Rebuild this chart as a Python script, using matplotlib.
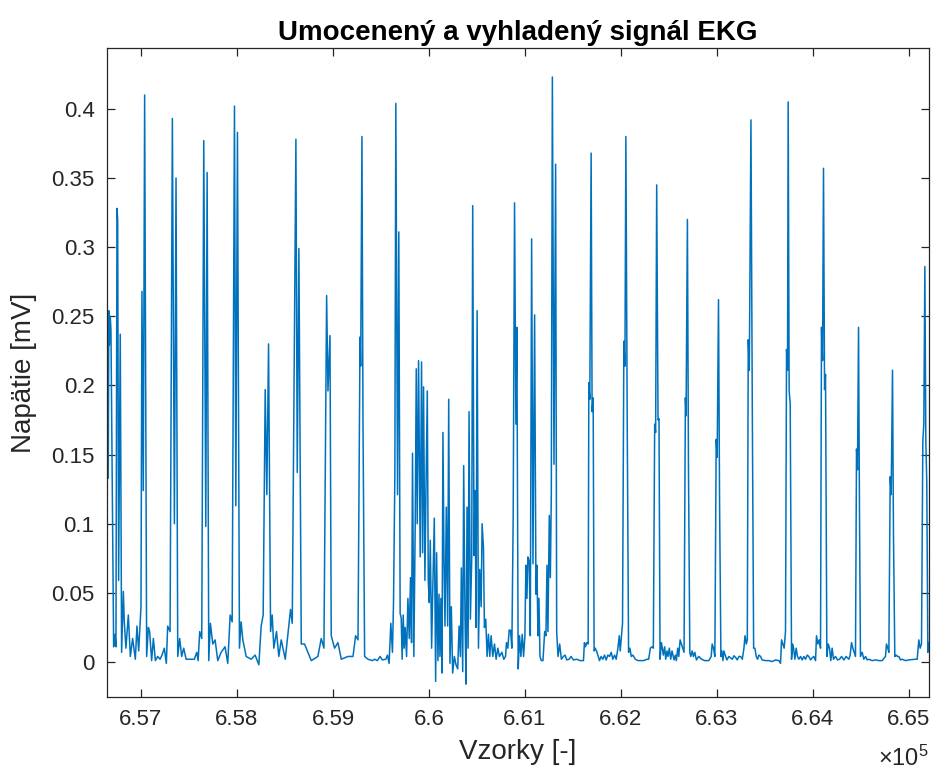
import numpy as np
import matplotlib
matplotlib.use("Agg")
import matplotlib.pyplot as plt
from matplotlib.ticker import MultipleLocator, FuncFormatter

plt.rcParams['font.family'] = ['Liberation Sans', 'DejaVu Sans']
plt.rcParams['mathtext.fontset'] = 'custom'
plt.rcParams['mathtext.rm'] = 'Liberation Sans'

# Vrcholy signalu odcitane z obrazku (vzorka, napatie v mV)
vzorky = [
    656659, 656665, 656670, 656680, 656687, 656715, 656729, 656739, 656750, 656757,
    656767, 656784, 656798, 656816, 656826, 656843, 656868, 656889, 656913, 656941,
    656958, 656976, 657000, 657010, 657024, 657038, 657059, 657077, 657090, 657111,
    657129, 657150, 657174, 657198, 657219, 657243, 657264, 657278, 657303, 657327,
    657348, 657365, 657383, 657403, 657424, 657445, 657470, 657504, 657556, 657581,
    657595, 657612, 657633, 657654, 657675, 657689, 657706, 657723, 657748, 657772,
    657800, 657835, 657876, 657904, 657929, 657950, 657974, 657988, 658005, 658026,
    658043, 658061, 658096, 658148, 658189, 658228, 658252, 658273, 658294, 658311,
    658329, 658350, 658367, 658384, 658412, 658436, 658461, 658503, 658558, 658576,
    658614, 658628, 658645, 658670, 658704, 658774, 658843, 658878, 658906, 658934,
    658948, 658969, 658982, 659017, 659052, 659087, 659156, 659209, 659236, 659261,
    659282, 659289, 659302, 659313, 659330, 659365,
    659411, 659436, 659463, 659491, 659515, 659551, 659568, 659585, 659603, 659620,
    659631, 659645, 659655, 659673, 659686, 659700, 659711, 659721, 659732, 659742,
    659753, 659767, 659781, 659795, 659808, 659819, 659829, 659843, 659857, 659868,
    659878, 659892, 659909, 659923, 659934, 659944, 659958, 659969, 659983, 659993,
    660003, 660014, 660028, 660038, 660056, 660070, 660080, 660094, 660105, 660115,
    660125, 660136, 660146, 660157, 660167, 660181, 660195, 660206, 660219, 660233,
    660247, 660265, 660282, 660300, 660314, 660328, 660338, 660352, 660362, 660376,
    660387, 660397, 660408, 660418, 660432, 660446, 660456, 660470, 660481, 660491,
    660502, 660516, 660530, 660544, 660554, 660568, 660578, 660592, 660606, 660620,
    660634, 660648, 660665, 660683, 660700, 660718, 660735, 660760, 660780, 660798,
    660808, 660822, 660836, 660850, 660864, 660878, 660892, 660906, 660916, 660930,
    660944, 660958, 660972, 660986, 661000, 661010, 661021, 661031, 661045, 661056,
    661070, 661084, 661101, 661115, 661125, 661136, 661146, 661157, 661171, 661188,
    661206, 661219, 661230, 661240, 661254, 661265, 661275, 661286, 661303, 661320,
    661331, 661345, 661362, 661380,
    661401, 661418, 661436, 661460, 661481, 661505, 661540, 661575, 661610, 661620,
    661631, 661645, 661659, 661666, 661676, 661690, 661700, 661711, 661721, 661732,
    661746, 661760, 661777, 661794, 661812, 661829, 661847, 661864, 661882, 661899,
    661916, 661934, 661951, 661969, 661983, 661993, 662003, 662017, 662031, 662042,
    662052, 662066, 662080, 662094, 662108, 662125, 662150, 662178, 662202, 662237,
    662272, 662289, 662307, 662324, 662338, 662352, 662362, 662373, 662387, 662397,
    662408, 662422, 662432, 662442, 662456, 662467, 662481, 662491, 662505, 662519,
    662533, 662554, 662568, 662578, 662592, 662603, 662617, 662631, 662645, 662658,
    662672, 662679, 662693, 662704, 662718, 662728, 662742, 662756, 662770, 662787,
    662812, 662840, 662874, 662916, 662941, 662951, 662965, 662979, 662993, 663003,
    663017, 663028, 663042, 663052, 663063, 663073, 663091, 663104, 663125, 663143,
    663160, 663178, 663195, 663212, 663230, 663247, 663265, 663282, 663293, 663307,
    663317, 663327, 663338, 663355, 663369, 663383,
    663396, 663410, 663424, 663438, 663455, 663472, 663507, 663542, 663576, 663611,
    663646, 663663, 663674, 663688, 663701, 663715, 663726, 663736, 663743, 663753,
    663764, 663778, 663788, 663799, 663813, 663826, 663840, 663854, 663872, 663889,
    663906, 663924, 663941, 663958, 663976, 663993, 664010, 664028, 664038, 664052,
    664066, 664080, 664090, 664101, 664111, 664122, 664132, 664146, 664160, 664174,
    664187, 664201, 664215, 664236, 664257, 664278, 664299, 664323, 664347, 664375,
    664389, 664403, 664417, 664431, 664444, 664455, 664465, 664476, 664486, 664496,
    664514, 664531, 664549, 664566, 664583, 664618, 664653, 664687, 664722, 664757,
    664767, 664781, 664792, 664806, 664816, 664830, 664840, 664854, 664868, 664882,
    664896, 664913, 664931, 664965, 665000, 665069, 665087, 665104, 665118, 665132,
    665146, 665156, 665167, 665177, 665187, 665198, 665208, 665219,
]

napatie = [
    0.133, 0.254, 0.229, 0.250, 0.240, 0.011, 0.020, 0.011, 0.328, 0.320,
    0.059, 0.237, 0.007, 0.051, 0.029, 0.010, 0.034, 0.004, 0.017, 0.002,
    0.026, 0.008, 0.040, 0.268, 0.124, 0.410, 0.004, 0.025, 0.022, 0.001,
    0.017, 0.001, 0.004, 0.002, 0.005, 0.010, -0.001, 0.026, 0.022, 0.393,
    0.100, 0.350, 0.004, 0.017, 0.004, 0.010, 0.002, 0.002, 0.002, 0.007,
    0.001, 0.022, 0.017, 0.377, 0.098, 0.354, 0.001, 0.028, 0.013, 0.016,
    0.001, 0.007, 0.011, -0.001, 0.034, 0.029, 0.402, 0.113, 0.383, 0.010,
    0.029, 0.016, 0.004, 0.002, 0.005, -0.002, 0.026, 0.034, 0.197, 0.121,
    0.230, 0.022, 0.034, 0.010, 0.022, 0.004, 0.016, 0.002, 0.038, 0.028,
    0.378, 0.137, 0.299, 0.013, 0.013, 0.001, 0.004, 0.017, 0.010, 0.265,
    0.196, 0.236, 0.019, 0.010, 0.014, 0.002, 0.004, 0.004, 0.019, 0.016,
    0.235, 0.214, 0.380, 0.173, 0.004, 0.002,
    0.001, 0.002, 0.001, 0.004, 0.0015, 0.002, 0.005, -0.001, 0.028, 0.007,
    0.043, 0.136, 0.404, 0.121, 0.311, 0.035, 0.032, 0.002, 0.034, 0.010,
    0.025, 0.004, 0.046, 0.017, 0.061, 0.014, 0.151, 0.004, 0.100, 0.212,
    0.100, 0.218, 0.076, 0.217, 0.079, 0.199, 0.059, 0.124, 0.196, 0.059,
    0.043, 0.088, 0.010, 0.046, 0.104, -0.014, 0.079, 0.001, 0.049, 0.004,
    0.046, -0.008, 0.166, 0.073, 0.026, 0.112, 0.026, 0.190, -0.001, 0.040,
    -0.008, 0.004, -0.002, -0.005, 0.026, 0.004, 0.068, -0.007, 0.142, 0.031,
    -0.016, 0.112, 0.010, 0.181, 0.031, 0.076, 0.330, 0.077, 0.124, 0.025,
    0.254, 0.010, 0.067, 0.040, 0.100, 0.083, 0.025, 0.031, 0.004, 0.020,
    0.004, 0.019, 0.004, 0.013, 0.002, 0.010, 0.004, 0.007, 0.002, 0.004,
    0.014, 0.010, 0.023, 0.023, 0.010, 0.106, 0.332, 0.172, 0.242, -0.005,
    0.019, 0.004, 0.020, 0.004, 0.019, 0.070, 0.046, 0.076, 0.073, 0.019,
    0.306, 0.071, 0.251, 0.049, 0.070, 0.019, 0.046, 0.004, 0.001, 0.001,
    0.022, 0.019, 0.070, 0.022, 0.106, 0.061, 0.121, 0.423, 0.143, 0.360,
    0.022, 0.004, 0.013, 0.002,
    0.004, 0.005, 0.0015, 0.002, 0.004, 0.0015, 0.002, 0.001, 0.001, 0.014,
    0.011, 0.014, 0.013, 0.202, 0.190, 0.368, 0.181, 0.191, 0.008, 0.010,
    0.008, 0.005, 0.001, 0.004, 0.002, 0.005, 0.0015, 0.005, 0.004, 0.007,
    0.002, 0.005, 0.002, 0.010, 0.019, 0.008, 0.016, 0.028, 0.232, 0.214,
    0.380, 0.172, 0.007, 0.010, 0.004, 0.005, 0.002, 0.001, 0.001, 0.001,
    0.002, 0.002, 0.010, 0.011, 0.010, 0.172, 0.166, 0.345, 0.175, 0.176,
    0.002, 0.014, 0.010, 0.005, 0.011, 0.002, 0.008, 0.004, 0.010, 0.002,
    0.008, 0.0015, 0.005, 0.001, 0.010, 0.004, 0.016, 0.013, 0.010, 0.007,
    0.191, 0.178, 0.320, 0.142, 0.007, 0.004, 0.008, 0.004, 0.007, 0.0015,
    0.004, 0.002, 0.001, 0.001, 0.004, 0.013, 0.010, 0.004, 0.161, 0.148,
    0.262, 0.116, 0.004, 0.008, 0.001, 0.008, 0.004, 0.0015, 0.004, 0.003,
    0.002, 0.0045, 0.0033, 0.0015, 0.004, 0.004, 0.002, 0.010, 0.019, 0.013,
    0.016, 0.233, 0.211, 0.392, 0.185, 0.010,
    0.010, 0.004, 0.002, 0.005, 0.004, 0.0015, 0.001, 0.001, 0.0003, 0.0015,
    0.001, -0.001, 0.016, 0.013, 0.010, 0.022, 0.226, 0.211, 0.405, 0.196,
    0.187, 0.002, 0.013, 0.010, 0.002, 0.010, 0.004, 0.002, 0.004, 0.0015,
    0.004, 0.002, 0.005, 0.004, 0.0015, 0.003, 0.004, 0.001, 0.019, 0.013,
    0.016, 0.010, 0.242, 0.218, 0.357, 0.197, 0.208, 0.004, 0.013, 0.010,
    0.001, 0.010, 0.002, 0.004, 0.0015, 0.002, 0.004, 0.0015, 0.004, 0.002,
    0.005, 0.014, 0.010, 0.007, 0.004, 0.154, 0.139, 0.242, 0.106, 0.004,
    0.007, 0.002, 0.004, 0.0015, 0.002, 0.001, 0.0015, 0.001, 0.001, 0.004,
    0.013, 0.010, 0.007, 0.134, 0.121, 0.211, 0.092, 0.004, 0.005, 0.004,
    0.004, 0.0015, 0.002, 0.001, 0.0015, 0.002, 0.002, 0.016, 0.010, 0.013,
    0.160, 0.172, 0.286, 0.160, 0.130, 0.007, 0.011, 0.016,
]

x_ticks = [657000, 658000, 659000, 660000, 661000, 662000, 663000, 664000, 665000]

fig = plt.figure(figsize=(9.33, 7.74), dpi=100)
ax = fig.add_axes([0.1147, 0.0995, 0.881, 0.8385])

ax.plot(vzorky, napatie, color='#0072BD', linewidth=1.1)

ax.set_xlim(656646, 665210)
ax.set_ylim(-0.0253, 0.444)
ax.set_xticks(x_ticks)
ax.yaxis.set_major_locator(MultipleLocator(0.05))
ax.xaxis.set_major_formatter(FuncFormatter(lambda v, p: f"{v / 1e5:g}"))
ax.yaxis.set_major_formatter(FuncFormatter(lambda v, p: f"{round(v, 3):g}"))

axis_col = '#262626'
for s in ax.spines.values():
    s.set_color(axis_col)
    s.set_linewidth(0.9)
ax.tick_params(direction='in', top=True, right=True, length=6, width=0.9,
               colors=axis_col, labelsize=16, pad=9)

ax.set_title('Umocenený a vyhladený signál EKG', fontsize=20, fontweight='bold',
             color='black', pad=6)
ax.set_xlabel('Vzorky [-]', fontsize=20, color=axis_col, labelpad=6)
ax.set_ylabel('Napätie [mV]', fontsize=20, color=axis_col, labelpad=10)

# exponent osi x ako v MATLABe
ax.text(1.0, -0.095, r'$\mathregular{\times10^{5}}$', transform=ax.transAxes,
        ha='right', va='center', fontsize=17, color=axis_col)

fig.savefig('out.png', dpi=100)
